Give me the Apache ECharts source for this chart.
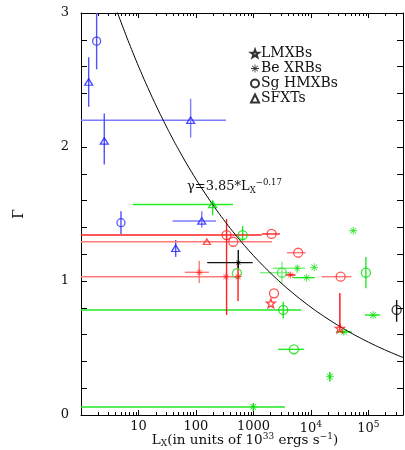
<!DOCTYPE html>
<html>
<head>
<meta charset="utf-8">
<script src="https://cdn.jsdelivr.net/npm/echarts@6/dist/echarts.min.js"></script>
<style>
html,body{margin:0;padding:0;background:#fff;}
#chart{width:405px;height:450px;}
</style>
</head>
<body>
<div id="chart"></div>
<script>
// Photon index Gamma versus X-ray luminosity for several classes of X-ray binaries.
// Each row: [Lx, Gamma, Lx_low, Lx_high, Gamma_low, Gamma_high]; null = no error bar.

const sgBlue = [
  [1.87, 2.79, null, null, 2.58, 3.3],
  [4.96, 1.435, null, null, 1.35, 1.52]
];
const sfxtBlue = [
  [1.36, 2.485, null, null, 2.30, 2.67],
  [2.54, 2.045, null, null, 1.87, 2.25],
  [44.4, 1.244, null, null, 1.18, 1.306]
];
const sfxtBlueFaint = [
  [80.8, 2.20, 0.5, 333, 2.07, 2.36],
  [126, 1.448, 39.3, 223, 1.40, 1.52]
];
const sfxtGreen = [
  [195, 1.571, 7.9, 440, 1.49, 1.60]
];
const sgGreen = [
  [649, 1.343, null, null, 1.29, 1.41],
  [90500, 1.062, null, null, 0.946, 1.18],
  [3300, 0.784, 0.5, 6760, 0.72, 0.846],
  [5060, 0.49, 2690, 7630, null, null]
];
const sgGreenFaint = [
  [516, 1.058, null, null, null, null],
  [3130, 1.062, 1300, 4310, 0.985, 1.144]
];
const beGreen = [
  [11400, 1.102, null, null, null, null],
  [54400, 1.375, null, null, null, null],
  [8420, 1.025, 4860, 11700, null, null],
  [121000, 0.746, 87000, 160000, null, null],
  [21400, 0.286, null, null, 0.25, 0.32],
  [37500, 0.62, 27200, 51600, null, null],
  [993, 0.06, 0.5, 3530, 0.03, 0.09]
];
const beGreenFaint = [
  [5780, 1.095, 2160, 7870, 1.057, 1.12]
];
const beBlack = [
  [545, 1.137, 157, 970, 1.095, 1.231]
];
const sgBlack = [
  [310000, 0.784, null, null, 0.696, 0.858]
];
const sgRed = [
  [341, 1.343, 0.5, 1390, 0.746, 1.463],
  [2070, 1.351, 1400, 2890, null, null],
  [2280, 0.908, null, null, null, null]
];
const sgRedFaint = [
  [445, 1.293, null, null, null, null],
  [6010, 1.211, 3830, 8090, null, null],
  [32900, 1.032, 15300, 51000, null, null]
];
const sfxtRedFaint = [
  [155, 1.293, 0.5, 2100, null, null]
];
const beRed = [
  [4440, 1.045, 3600, 5400, null, null],
  [540, 1.032, null, null, 0.85, 1.14]
];
const beRedFaint = [
  [114, 1.065, 64, 168, 0.985, 1.151],
  [332, 1.032, 0.5, 600, null, null]
];
const lmxbRed = [
  [2010, 0.834, null, null, null, null],
  [31900, 0.647, null, null, 0.63, 0.91]
];

// fitted relation drawn as a curve: Gamma = A * Lx^B
const fitA = 3.85;
const fitB = -0.17;

const xMajorTicks = [10, 100, 1000, 1e4, 1e5];
const yTickStep = 0.2;
const legendNames = ['LMXBs', 'Be XRBs', 'Sg HMXBs', 'SFXTs'];

// ---- symbols ----
const STAR = 'path://M0,-10 L2.35,-3.24 L9.51,-3.09 L3.80,1.24 L5.88,8.09 L0,4 L-5.88,8.09 L-3.80,1.24 L-9.51,-3.09 L-2.35,-3.24 Z';
const ASTER = 'path://M-1,-10 L1,-10 L1,10 L-1,10 Z M-10,-1 L10,-1 L10,1 L-10,1 Z M-6.36,-7.78 L7.78,6.36 L6.36,7.78 L-7.78,-6.36 Z M7.78,-6.36 L-6.36,7.78 L-7.78,6.36 L6.36,-7.78 Z';
const CIRC = 'circle';
const TRI = 'triangle';

const FONT = 'DejaVu Serif';

const minorTicks = [];
for (let e = 0; e <= 5; e++) {
  for (let m = 2; m <= 9; m++) {
    const v = m * Math.pow(10, e);
    if (v <= 4e5) minorTicks.push(v);
  }
}

const fitCurve = [];
for (let lg = 0; lg <= 5.62; lg += 0.02) {
  const L = Math.pow(10, lg);
  fitCurve.push([L, fitA * Math.pow(L, fitB)]);
}

function renderBars(params, api) {
  const x = api.value(0), y = api.value(1);
  const xlo = api.value(2), xhi = api.value(3), ylo = api.value(4), yhi = api.value(5);
  const stroke = api.style().fill;
  const kids = [];
  if (isFinite(xlo) && isFinite(xhi) && xlo > 0 && xhi > 0) {
    const a = api.coord([xlo, y]), b = api.coord([xhi, y]);
    kids.push({type: 'line', shape: {x1: a[0], y1: a[1], x2: b[0], y2: b[1]}, style: {stroke: stroke, lineWidth: 1.4}});
  }
  if (isFinite(ylo) && isFinite(yhi)) {
    const a = api.coord([x, ylo]), b = api.coord([x, yhi]);
    kids.push({type: 'line', shape: {x1: a[0], y1: a[1], x2: b[0], y2: b[1]}, style: {stroke: stroke, lineWidth: 1.4}});
  }
  return {type: 'group', children: kids};
}

function clean(rows) {
  return rows.map(r => r.map(v => (v === null ? '-' : v)));
}

const groups = [
  {data: sfxtBlueFaint, sym: TRI, size: 8, mark: '#2222ff', err: '#7c7cff'},
  {data: sgBlue, sym: CIRC, size: 8, mark: '#2a2aff', err: '#5050ff'},
  {data: sfxtBlue, sym: TRI, size: 8, mark: '#1a1aff', err: '#5050ff'},
  {data: sfxtGreen, sym: TRI, size: 8, mark: '#00dd00', err: '#22ee22'},
  {data: sgGreenFaint, sym: CIRC, size: 9, mark: '#22dd22', err: '#80f080'},
  {data: beGreenFaint, sym: ASTER, size: 7, mark: '#00dd00', err: '#80f080'},
  {data: sgGreen, sym: CIRC, size: 9, mark: '#00dd00', err: '#22e822'},
  {data: beGreen, sym: ASTER, size: 8, mark: '#00dd00', err: '#22e822'},
  {data: sfxtRedFaint, sym: TRI, size: 7, mark: '#ff2020', err: '#ff7a7a'},
  {data: sgRedFaint, sym: CIRC, size: 9, mark: '#ff3030', err: '#ff7a7a'},
  {data: beRedFaint, sym: ASTER, size: 7, mark: '#ff2020', err: '#ff7a7a'},
  {data: sgRed, sym: CIRC, size: 9, mark: '#ff2020', err: '#ff2020'},
  {data: beRed, sym: ASTER, size: 7, mark: '#ff1010', err: '#ff2020'},
  {data: lmxbRed, sym: STAR, size: 9, mark: '#ff1010', err: '#ff1010'},
  {data: beBlack, sym: ASTER, size: 6, mark: '#000', err: '#111'},
  {data: sgBlack, sym: CIRC, size: 9, mark: '#000', err: '#111'}
];

const series = [];
groups.forEach(g => {
  series.push({
    type: 'custom',
    xAxisIndex: 0, yAxisIndex: 0,
    clip: true,
    silent: true,
    itemStyle: {color: g.err},
    encode: {x: 0, y: 1},
    renderItem: renderBars,
    data: clean(g.data),
    z: 2
  });
});
groups.forEach(g => {
  const filled = g.sym === ASTER;
  series.push({
    type: 'scatter',
    xAxisIndex: 0, yAxisIndex: 0,
    symbol: g.sym,
    symbolSize: g.sym === TRI ? [g.size, g.size * 0.8] : g.size,
    silent: true,
    itemStyle: filled ? {color: g.mark} : {color: 'rgba(0,0,0,0)', borderColor: g.mark, borderWidth: 1.3},
    data: g.data.map(r => [r[0], r[1]]),
    z: 4
  });
});

series.push({
  type: 'line',
  xAxisIndex: 0, yAxisIndex: 0,
  data: fitCurve,
  showSymbol: false,
  silent: true,
  clip: true,
  lineStyle: {color: '#000', width: 1},
  z: 3
});

// legend entries (black symbols, no data)
const legendSyms = [STAR, ASTER, CIRC, TRI];
legendNames.forEach((n, i) => {
  const s = legendSyms[i];
  series.push({
    type: 'scatter',
    name: n,
    symbol: s,
    data: [],
    itemStyle: s === ASTER ? {color: '#000'} : {color: 'rgba(0,0,0,0)', borderColor: '#000', borderWidth: 0.8}
  });
});

function xAxisDef(pos, ticks, len, withLabels, withLine) {
  return {
    type: 'log',
    logBase: 10,
    min: 1,
    max: 4e5,
    position: pos,
    axisLine: {show: withLine, onZero: false, lineStyle: {color: '#000', width: 1}},
    axisTick: {show: true, inside: true, length: len, customValues: ticks, lineStyle: {color: '#000', width: 1}},
    axisLabel: withLabels ? {
      show: true,
      customValues: xMajorTicks,
      margin: 5,
      fontFamily: FONT,
      fontSize: 13,
      color: '#111',
      formatter: function (v) {
        const e = Math.round(Math.log10(v));
        if (e <= 3) return String(Math.round(v));
        return '{b|10}{s|' + e + '}';
      },
      rich: {
        b: {fontFamily: FONT, fontSize: 13, color: '#111'},
        s: {fontFamily: FONT, fontSize: 9, color: '#111', verticalAlign: 'top', padding: [0, 0, 8, 0]}
      }
    } : {show: false},
    splitLine: {show: false}
  };
}

function yAxisDef(pos, withLabels) {
  return {
    type: 'value',
    min: 0,
    max: 3,
    interval: yTickStep,
    position: pos,
    axisLine: {show: true, onZero: false, lineStyle: {color: '#000', width: 1}},
    axisTick: {show: true, inside: true, length: 6, lineStyle: {color: '#000', width: 1}},
    axisLabel: withLabels ? {
      show: true,
      margin: 12,
      fontFamily: FONT,
      fontSize: 13,
      color: '#111',
      formatter: function (v) {
        return Math.abs(v - Math.round(v)) < 1e-6 ? String(Math.round(v)) : '';
      }
    } : {show: false},
    splitLine: {show: false},
    name: withLabels ? 'Γ' : '',
    nameLocation: 'middle',
    nameGap: 55,
    nameRotate: 90,
    nameTextStyle: {fontFamily: FONT, fontSize: 14, color: '#111'}
  };
}

const chart = echarts.init(document.getElementById('chart'), null, {renderer: 'canvas'});
chart.setOption({
  animation: false,
  backgroundColor: '#fff',
  grid: {left: 81, right: 2, top: 13, bottom: 35, containLabel: false, outerBoundsMode: 'none'},
  xAxis: [
    xAxisDef('bottom', xMajorTicks, 5, true, true),
    xAxisDef('bottom', minorTicks, 3, false, false),
    xAxisDef('top', xMajorTicks, 5, false, true),
    xAxisDef('top', minorTicks, 3, false, false)
  ],
  yAxis: [
    yAxisDef('left', true),
    yAxisDef('right', false)
  ],
  legend: {
    orient: 'vertical',
    left: 245,
    top: 41,
    itemWidth: 8,
    itemHeight: 8,
    itemGap: 0,
    selectedMode: false,
    textStyle: {fontFamily: FONT, fontSize: 14, color: '#111', lineHeight: 15, padding: [0, 0, 0, -3]},
    data: legendNames
  },
  graphic: [{
    type: 'text',
    left: 187,
    top: 178,
    style: {
      text: '{t|γ=3.85*L}{sub|X}{sup|−0.17}',
      rich: {
        t: {fontFamily: FONT, fontSize: 13, fill: '#111', lineHeight: 18},
        sub: {fontFamily: FONT, fontSize: 8.5, fill: '#111', lineHeight: 18, padding: [8, 0, 0, 0]},
        sup: {fontFamily: FONT, fontSize: 8.5, fill: '#111', lineHeight: 18, padding: [0, 0, 7, 0]}
      }
    }
  }, {
    // x-axis title
    type: 'text',
    x: 245,
    y: 432,
    style: {
      text: '{t|L}{sub|X}{t|(in units of 10}{sup|33}{t| ergs s}{sup|−1}{t|)}',
      align: 'center',
      verticalAlign: 'top',
      rich: {
        t: {fontFamily: FONT, fontSize: 13.5, fill: '#111', lineHeight: 16},
        sub: {fontFamily: FONT, fontSize: 9, fill: '#111', lineHeight: 16, padding: [8, 0, 0, 0]},
        sup: {fontFamily: FONT, fontSize: 9, fill: '#111', lineHeight: 16, padding: [0, 0, 6, 0]}
      }
    }
  }],
  series: series
});
</script>
</body>
</html>
